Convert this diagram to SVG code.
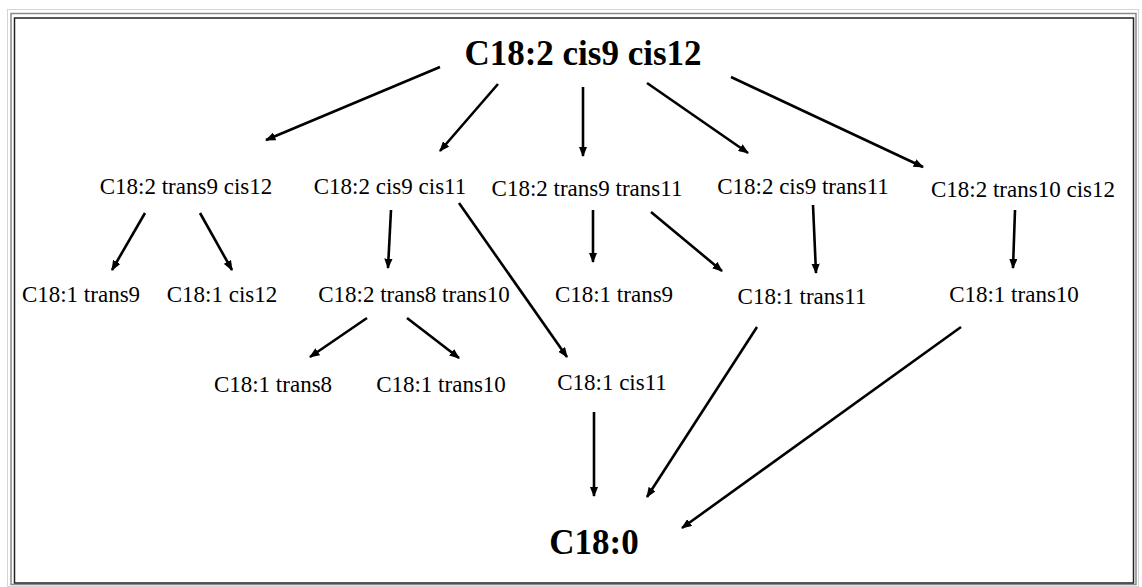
<svg xmlns="http://www.w3.org/2000/svg" width="1142" height="587" viewBox="0 0 1142 587">
<style>
.t{font-family:"Liberation Serif","Times New Roman",serif;font-size:23px;fill:#000;text-anchor:middle}
.b{font-family:"Liberation Serif","Times New Roman",serif;font-size:35px;font-weight:bold;fill:#000;text-anchor:middle}
.c{stroke:#000;stroke-width:2.6;fill:none;marker-end:url(#ah)}
</style>
<defs>
<marker id="ah" viewBox="0 0 10 8" refX="9" refY="4" markerWidth="4" markerHeight="3.2" orient="auto" markerUnits="strokeWidth">
<path d="M0,0 L10,4 L0,8 z" fill="#000"/>
</marker>
</defs>
<rect width="1142" height="587" fill="#fff"/>
<g id="frame" fill="none">
<rect x="7.5" y="9.5" width="1131" height="577" stroke="#d4d4d4" stroke-width="1"/>
<rect x="11" y="13.5" width="1125" height="571" stroke="#8a8a8a" stroke-width="1.5"/>
<rect x="14.5" y="18" width="1119" height="565" stroke="#222" stroke-width="1.5"/>
</g>
<g id="n-root"><text class="b" x="583" y="65">C18:2 cis9 cis12</text></g>
<g id="n-t9c12"><text class="t" x="186" y="194">C18:2 trans9 cis12</text></g>
<g id="n-c9c11"><text class="t" x="390" y="194">C18:2 cis9 cis11</text></g>
<g id="n-t9t11"><text class="t" x="587" y="196">C18:2 trans9 trans11</text></g>
<g id="n-c9t11"><text class="t" x="803" y="194">C18:2 cis9 trans11</text></g>
<g id="n-t10c12"><text class="t" x="1023" y="197">C18:2 trans10 cis12</text></g>
<g id="n-t9a"><text class="t" x="81" y="302">C18:1 trans9</text></g>
<g id="n-c12"><text class="t" x="222" y="302">C18:1 cis12</text></g>
<g id="n-t8t10"><text class="t" x="414" y="302">C18:2 trans8 trans10</text></g>
<g id="n-t9b"><text class="t" x="614" y="302">C18:1 trans9</text></g>
<g id="n-t11"><text class="t" x="802" y="304">C18:1 trans11</text></g>
<g id="n-t10a"><text class="t" x="1014" y="302">C18:1 trans10</text></g>
<g id="n-t8"><text class="t" x="273" y="392">C18:1 trans8</text></g>
<g id="n-t10b"><text class="t" x="441" y="392">C18:1 trans10</text></g>
<g id="n-c11"><text class="t" x="612" y="390">C18:1 cis11</text></g>
<g id="n-sat"><text class="b" x="594" y="554">C18:0</text></g>
<g id="connectors">
<line class="c" x1="440" y1="67" x2="266" y2="140"/>
<line class="c" x1="498" y1="84" x2="440" y2="151"/>
<line class="c" x1="583" y1="87" x2="583" y2="156"/>
<line class="c" x1="647" y1="83" x2="748" y2="153"/>
<line class="c" x1="731" y1="77" x2="923" y2="167"/>
<line class="c" x1="145" y1="213" x2="112" y2="270"/>
<line class="c" x1="200" y1="213" x2="232" y2="270"/>
<line class="c" x1="391" y1="210" x2="388" y2="268"/>
<line class="c" x1="459" y1="203" x2="567" y2="357"/>
<line class="c" x1="593" y1="210" x2="593" y2="262"/>
<line class="c" x1="651" y1="212" x2="722" y2="271"/>
<line class="c" x1="813" y1="205" x2="816" y2="273"/>
<line class="c" x1="1015" y1="210" x2="1013" y2="268"/>
<line class="c" x1="367" y1="318" x2="310" y2="357"/>
<line class="c" x1="407" y1="318" x2="459" y2="358"/>
<line class="c" x1="594" y1="412" x2="594" y2="496"/>
<line class="c" x1="757" y1="327" x2="647" y2="497"/>
<line class="c" x1="961" y1="327" x2="682" y2="528"/>
</g>
</svg>
